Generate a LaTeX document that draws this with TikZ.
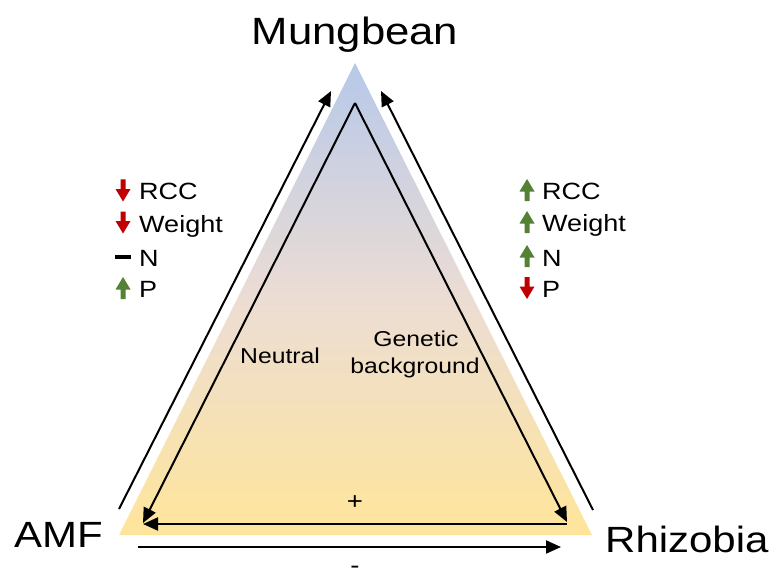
\documentclass[tikz,border=0pt]{standalone}
\usepackage{fontspec}
\setmainfont{Liberation Sans}[FakeStretch=1.15]
\usetikzlibrary{arrows.meta}
\definecolor{bluT}{RGB}{183,200,233}
\definecolor{midC}{RGB}{236,221,212}
\definecolor{yelB}{RGB}{255,229,155}
\definecolor{redA}{RGB}{192,0,0}
\definecolor{grnA}{RGB}{84,130,53}
\tikzset{
  conn/.style={line width=2pt, -{Triangle[length=15pt,width=13pt]}},
  big/.style={inner sep=0pt, anchor=base, font=\fontsize{36.5}{40}\selectfont},
  lst/.style={inner sep=0pt, anchor=base west, font=\fontsize{23.5}{27}\selectfont},
  inner/.style={inner sep=0pt, anchor=base, font=\fontsize{21.5}{26}\selectfont},
  dnarrow/.pic={\fill[redA] (-2.5,-11) -- (2.5,-11) -- (2.5,-1.5) -- (7.5,-1.5) -- (0,11) -- (-7.5,-1.5) -- (-2.5,-1.5) -- cycle;},
  uparrow/.pic={\fill[grnA] (-2.5,11) -- (2.5,11) -- (2.5,1.5) -- (7.5,1.5) -- (0,-11) -- (-7.5,1.5) -- (-2.5,1.5) -- cycle;},
  flatdash/.pic={\fill[black] (-8,-2) rectangle (8,2);}
}
\begin{document}
\begin{tikzpicture}[x=1pt,y=-1pt]
\useasboundingbox[fill=white] (0,0) rectangle (774,575);
% shaded triangle
\coordinate (apex) at (355,63);
\coordinate (bl) at (119,535);
\coordinate (br) at (592,535);
\shade[top color=bluT, bottom color=yelB, middle color=midC] (apex) -- (bl) -- (br) -- cycle;
% inner connectors
\coordinate (itop) at (355,103);
\coordinate (iamf) at (143,523);
\coordinate (irhz) at (567,522);
\coordinate (hr) at (567,524);
\coordinate (hl) at (143,524);
\draw[conn] (itop) -- (iamf);
\draw[conn] (itop) -- (irhz);
\draw[conn] (hr) -- (hl);
% outer connectors
\coordinate (ol1) at (119,509);
\coordinate (ol2) at (331,91);
\coordinate (or1) at (593,510);
\coordinate (or2) at (381,91);
\coordinate (ob1) at (138,547);
\coordinate (ob2) at (561,547);
\draw[conn] (ol1) -- (ol2);
\draw[conn] (or1) -- (or2);
\draw[conn] (ob1) -- (ob2);
% labels
\node[big, font=\fontsize{38}{42}\selectfont] (mung) at (355,45) {Mungbean};
\node[big, anchor=base west] (amf) at (14,547) {AMF};
\node[big, anchor=base west] (rhz) at (605,552) {Rhizobia};
\node[inner, anchor=base west] (neu) at (240,363) {Neutral};
\node[inner] (gen1) at (416,346) {Genetic};
\node[inner] (gen2) at (415,373) {background};
\node[inner, font=\fontsize{24}{28}\selectfont] (plus) at (355,509) {+};
\node[inner, font=\fontsize{24}{28}\selectfont, text depth=0pt] (minus) at (355,573) {-};
% left list
\pic at (123,190.5) {dnarrow};
\node[lst] (l1) at (139,200) {RCC};
\pic at (123,222.5) {dnarrow};
\node[lst] (l2) at (139,232) {Weight};
\pic at (123,257) {flatdash};
\node[lst] (l3) at (139,266) {N};
\pic at (123,288) {uparrow};
\node[lst] (l4) at (139,297.5) {P};
% right list
\pic at (527,190) {uparrow};
\node[lst] (r1) at (542,199.5) {RCC};
\pic at (527,222) {uparrow};
\node[lst] (r2) at (542,231.5) {Weight};
\pic at (527,256) {uparrow};
\node[lst] (r3) at (542,266) {N};
\pic at (527,288) {dnarrow};
\node[lst] (r4) at (542,297.5) {P};
\end{tikzpicture}
\end{document}
